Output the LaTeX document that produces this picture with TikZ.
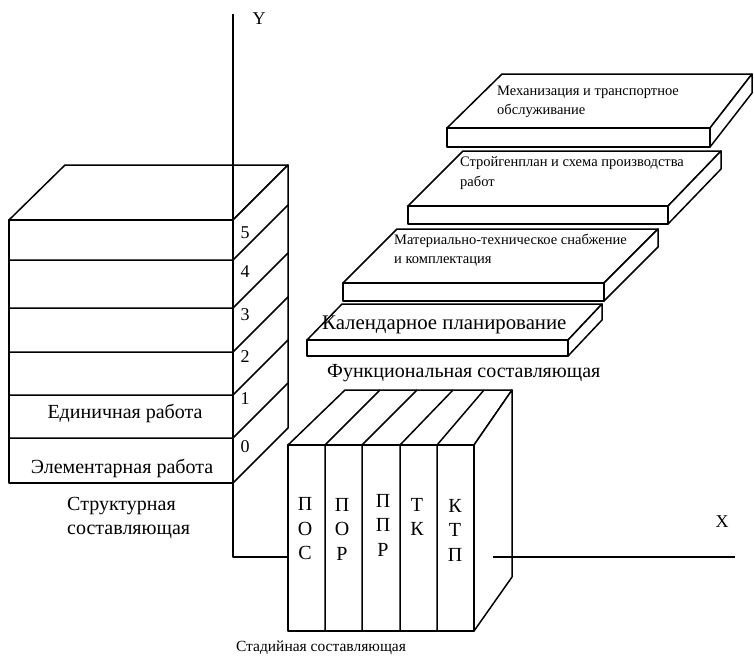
\documentclass[tikz,border=0pt]{standalone}
\usepackage{fontspec}
\setmainfont{Liberation Serif}
\begin{document}
\begin{tikzpicture}[x=1pt,y=-1pt,
  edge/.style={draw=black,line width=1.5pt,line join=round},
  face/.style={edge,fill=white},
  big/.style={font=\fontsize{20}{24}\selectfont,inner sep=0pt},
  num/.style={font=\fontsize{18}{20}\selectfont,inner sep=0pt},
  small/.style={font=\fontsize{14.5}{19.5}\selectfont,inner sep=0pt,align=left,anchor=west},
  mid/.style={font=\fontsize{15.5}{18}\selectfont,inner sep=0pt},
  axislab/.style={font=\fontsize{18}{20}\selectfont,inner sep=0pt},
  letters/.style={font=\fontsize{20}{24.5}\selectfont,inner sep=0pt,align=center}]
\useasboundingbox (0,0) rectangle (754,661);

% ---------- axes ----------
\draw[edge] (233,14) -- (233,557) -- (288,557);
\draw[edge] (493,557) -- (735,557);
\node[axislab] (ylab) at (259,19) {Y};
\node[axislab] (xlab) at (722,522) {X};

% ---------- structural stack (levels 0..5) ----------
\draw[face] (9,220) -- (65,165) -- (288,165) -- (233,220) -- cycle;
\draw[face] (233,220) -- (288,165) -- (288,428) -- (233,483) -- cycle;
\draw[face] (9,220) rectangle (233,483);
\foreach \yy in {260,308,352,395,438}{
  \draw[edge] (9,\yy) -- (233,\yy) -- (288,\yy-55);
}
\draw[edge] (233,14) -- (233,220);
\node[num] (n5) at (245,233) {5};
\node[num] (n4) at (245,272) {4};
\node[num] (n3) at (245,315) {3};
\node[num] (n2) at (245,357) {2};
\node[num] (n1) at (245,399) {1};
\node[num] (n0) at (245,447) {0};
\node[big] (unit) at (125,413) {Единичная работа};
\node[big] (elem) at (122,468) {Элементарная работа};
\node[big,align=left,anchor=west] (struct) at (67,518) {Структурная\\составляющая};

% ---------- stage block ----------
\draw[face] (288,445) -- (345,390) -- (512,390) -- (474,445) -- cycle;
\draw[face] (474,445) -- (512,390) -- (512,577) -- (474,631) -- cycle;
\draw[face] (288,445) rectangle (474,631);
\foreach \fx/\bx in {325/380,362/417,400/453,437/484}{
  \draw[edge] (\fx,631) -- (\fx,445) -- (\bx,390);
}
\draw[edge] (493,557) -- (512,557);
\node[letters] (pos) at (305,529) {П\\О\\С};
\node[letters] (por) at (342,529) {П\\О\\Р};
\node[letters] (ppr) at (383,525) {П\\П\\Р};
\node[letters] (tk)  at (417,517) {Т\\К};
\node[letters] (ktp) at (455,530) {К\\Т\\П};
\node[mid] (stage) at (321,648) {Стадийная составляющая};

% ---------- functional plates ----------
% plate: front-left x, front-right x, front-top y, front-bottom y, back-left x, back-right x, back-top y
\foreach \fl/\fr/\ft/\fb/\bl/\br/\bt in {
  447/710/128/147/502/752/74,
  408/668/206/224/463/721/151,
  343/604/283/301/397/658/229,
  307/568/340/356/342/602/304}{
  \draw[face] (\fl,\ft) -- (\bl,\bt) -- (\br,\bt) -- (\fr,\ft) -- cycle;
  \draw[face] (\fr,\ft) -- (\br,\bt) -- (\br,\bt+\fb-\ft) -- (\fr,\fb) -- cycle;
  \draw[face] (\fl,\ft) rectangle (\fr,\fb);
}
\node[small] (mech) at (497,102) {Механизация и транспортное\\обслуживание};
\node[small] (plan) at (460,173) {Стройгенплан и схема производства\\работ};
\node[small] (supp) at (394,250) {Материально-техническое снабжение\\и комплектация};
\node[big,anchor=west,font=\fontsize{20.8}{24}\selectfont] (cal) at (322,325) {Календарное планирование};
\node[big,anchor=west] (func) at (327,373) {Функциональная составляющая};
\end{tikzpicture}
\end{document}
